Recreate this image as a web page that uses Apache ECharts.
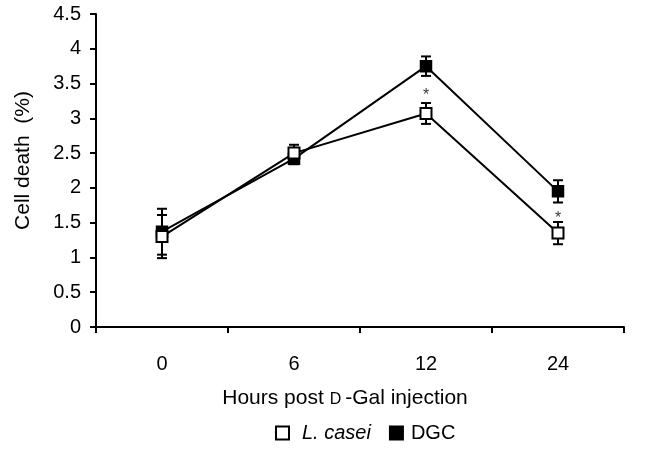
<!DOCTYPE html>
<html>
<head>
<meta charset="utf-8">
<script src="https://cdn.jsdelivr.net/npm/echarts@6/dist/echarts.min.js"></script>
<style>
  html, body { margin: 0; padding: 0; background: #fff; }
  #chart { width: 669px; height: 450px; }
</style>
</head>
<body>
<div id="chart"></div>
<script>
// Cell death (%) after D-Gal injection, L. casei vs DGC, mean ± error
var hours = ["0", "6", "12", "24"];
var caseiMean = [1.30, 2.50, 3.07, 1.35];
var caseiErr = [0.31, 0.12, 0.15, 0.16];
var dgcMean = [1.37, 2.42, 3.75, 1.95];
var dgcErr = [0.33, 0.08, 0.14, 0.16];
// significance stars above L. casei points (category index, y)
var starPoints = [[2, 3.38], [3, 1.61]];

function errData(mean, err) {
  return mean.map(function (m, i) { return [i, m - err[i], m + err[i]]; });
}

function errRender(params, api) {
  var x = api.value(0);
  var lo = api.coord([x, api.value(1)]);
  var hi = api.coord([x, api.value(2)]);
  var w = 5;
  var st = { stroke: "#000", lineWidth: 2 };
  return {
    type: "group",
    children: [
      { type: "line", shape: { x1: lo[0], y1: lo[1], x2: hi[0], y2: hi[1] }, style: st },
      { type: "line", shape: { x1: lo[0] - w, y1: lo[1], x2: lo[0] + w, y2: lo[1] }, style: st },
      { type: "line", shape: { x1: hi[0] - w, y1: hi[1], x2: hi[0] + w, y2: hi[1] }, style: st }
    ]
  };
}

var font = "Liberation Sans, Arial, sans-serif";
var c = echarts.init(document.getElementById("chart"));
c.setOption({
  animation: false,
  grid: { left: 96, right: 45, top: 14, bottom: 123 },
  legend: {
    data: ["L. casei", "DGC"],
    bottom: 2,
    left: 270,
    itemWidth: 13,
    itemHeight: 13,
    itemGap: 18,
    icon: "rect",
    textStyle: {
      fontFamily: font, fontSize: 20, color: "#000",
      rich: {
        it: { fontStyle: "italic", fontFamily: font, fontSize: 20, color: "#000", padding: [0, 0, 0, 8] },
        n: { fontFamily: font, fontSize: 20, color: "#000", padding: [0, 0, 0, 3] }
      }
    },
    formatter: function (n) { return n === "L. casei" ? "{it|" + n + "}" : "{n|" + n + "}"; }
  },
  xAxis: {
    type: "category",
    data: hours,
    boundaryGap: true,
    name: "Hours post {sc|D}-Gal injection",
    nameLocation: "middle",
    nameGap: 61,
    nameTextStyle: {
      fontFamily: font, fontSize: 21, color: "#000",
      padding: [0, 30, 0, 0],
      rich: { sc: { fontFamily: font, fontSize: 16, color: "#000", padding: [2, 4, 0, 0] } }
    },
    axisLine: { lineStyle: { color: "#000", width: 2 } },
    axisTick: { show: true, length: 6, lineStyle: { color: "#000", width: 2 } },
    axisLabel: { fontFamily: font, fontSize: 20, color: "#000", margin: 27 }
  },
  yAxis: {
    type: "value",
    min: 0,
    max: 4.5,
    interval: 0.5,
    name: "Cell death  (%)",
    nameLocation: "middle",
    nameGap: 62,
    nameTextStyle: { fontFamily: font, fontSize: 21, color: "#000", padding: [0, 0, 0, 20] },
    axisLine: { show: true, lineStyle: { color: "#000", width: 2 } },
    axisTick: { show: true, length: 6, lineStyle: { color: "#000", width: 2 } },
    splitLine: { show: false },
    axisLabel: { fontFamily: font, fontSize: 20, color: "#000", margin: 15 }
  },
  series: [
    {
      name: "DGC",
      type: "line",
      data: dgcMean,
      z: 3,
      symbol: "rect",
      symbolSize: 11,
      showAllSymbol: true,
      lineStyle: { color: "#000", width: 2 },
      itemStyle: { color: "#000", borderColor: "#000", borderWidth: 1.5 }
    },
    {
      type: "custom",
      renderItem: errRender,
      data: errData(dgcMean, dgcErr),
      z: 2
    },
    {
      name: "L. casei",
      type: "line",
      data: caseiMean,
      z: 5,
      symbol: "rect",
      symbolSize: 11,
      showAllSymbol: true,
      lineStyle: { color: "#000", width: 2 },
      itemStyle: { color: "#fff", borderColor: "#000", borderWidth: 2 }
    },
    {
      type: "custom",
      renderItem: errRender,
      data: errData(caseiMean, caseiErr),
      z: 4
    },
    {
      type: "scatter",
      data: starPoints,
      symbolSize: 0,
      silent: true,
      label: {
        show: true, position: "inside", formatter: "*", offset: [0, 4],
        fontFamily: font, fontSize: 16, color: "#000"
      }
    }
  ]
});
</script>
</body>
</html>
